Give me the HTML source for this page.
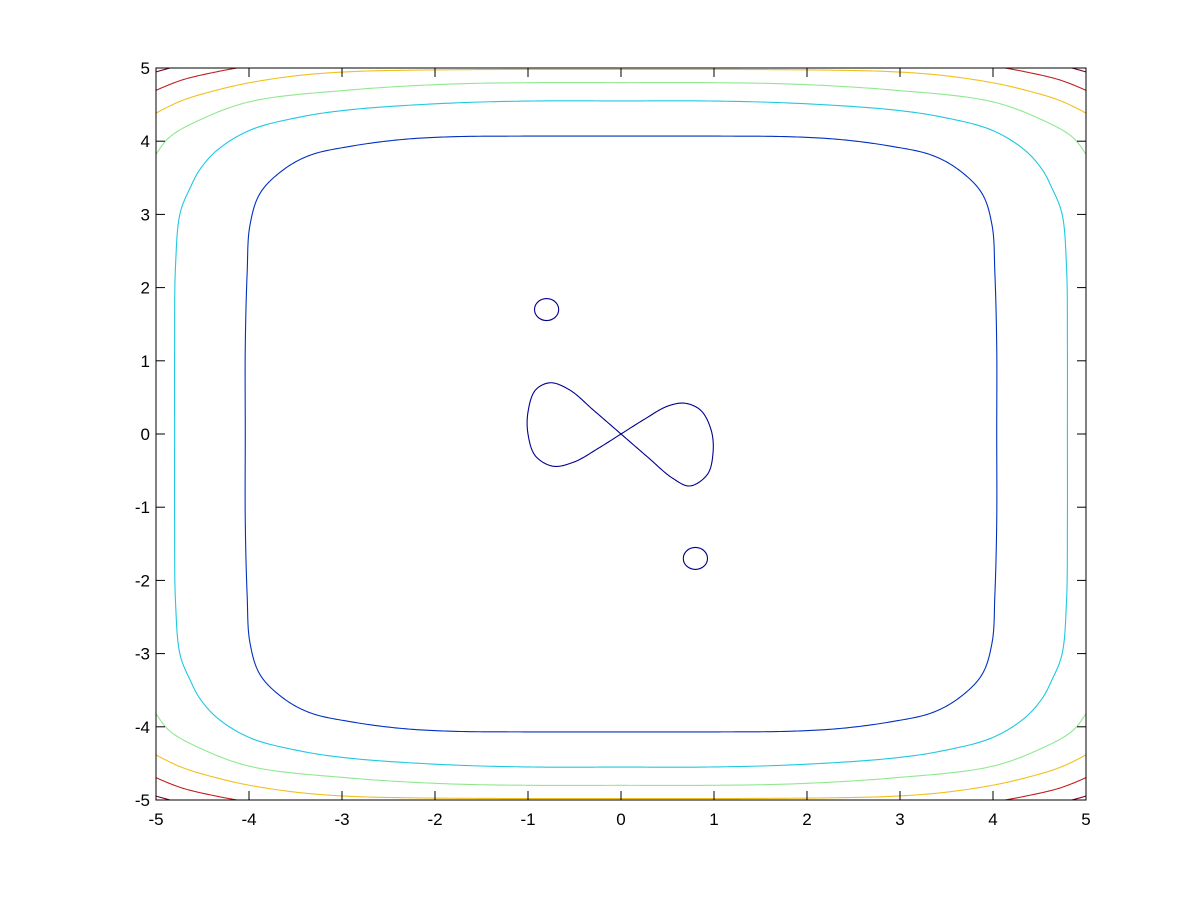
<!DOCTYPE html>
<html><head><meta charset="utf-8"><style>
body{margin:0;background:#fff}
svg{display:block}
text{font-family:"Liberation Sans",Arial,sans-serif;font-size:17px;fill:#000}
</style></head><body>
<svg id="chart" width="1200" height="900" viewBox="0 0 1200 900">
<defs><clipPath id="clip"><rect x="156" y="68" width="930" height="732"/></clipPath></defs>
<rect x="0" y="0" width="1200" height="900" fill="#fff"/>
<g id="contours" clip-path="url(#clip)"></g>
<g id="axes"></g>
</svg>
<script>
// contour levels: top-left quadrant points (data units), mirrored to the other quadrants
const levelColors = ["#0030c0","#20c8e0","#90e890","#f0c020","#c02020","#800020"];
const levelClosed = [true, true, false, false, false, false];
const lvlBlueX = [-4.04,-4.04,-4.02,-3.99,-3.88,-3.63,-3.34,-2.91,-2.38,-1.84,-0.9,0];
const lvlBlueY = [0,1.2,2.2,2.85,3.29,3.61,3.81,3.93,4.02,4.06,4.07,4.07];
const lvlCyanX = [-4.8,-4.8,-4.79,-4.74,-4.63,-4.53,-4.34,-3.99,-3.45,-2.91,-1.84,-0.9,0];
const lvlCyanY = [0,1.2,2.3,3.02,3.37,3.61,3.88,4.15,4.33,4.43,4.52,4.55,4.55];
const lvlGreenX = [-5.12,-4.99,-4.85,-4.53,-3.99,-2.91,-1.84,-0.9,0];
const lvlGreenY = [3.55,3.84,4.06,4.29,4.54,4.70,4.78,4.80,4.80];
const lvlYellowX = [-5.1,-4.99,-4.71,-4.34,-3.99,-3.45,-2.91,-2.27,-1.2,0];
const lvlYellowY = [4.3,4.39,4.56,4.70,4.80,4.90,4.95,4.97,4.98,4.98];
const lvlRedX = [-5.1,-4.99,-4.71,-4.34,-4.13,-3.8];
const lvlRedY = [4.63,4.70,4.84,4.95,5.0,5.08];
const lvlDarkX = [-5.1,-4.99,-4.85,-4.7];
const lvlDarkY = [4.9,4.95,5.0,5.06];
const levelXs = [lvlBlueX,lvlCyanX,lvlGreenX,lvlYellowX,lvlRedX,lvlDarkX];
const levelYs = [lvlBlueY,lvlCyanY,lvlGreenY,lvlYellowY,lvlRedY,lvlDarkY];
const xTicks = [-5,-4,-3,-2,-1,0,1,2,3,4,5];
const yTicks = [-5,-4,-3,-2,-1,0,1,2,3,4,5];
// figure-eight contour points
const eightX = [0,-0.3,-0.55,-0.76,-0.92,-1.0,-1.0,-0.92,-0.73,-0.5,-0.25,0,0.25,0.5,0.69,0.86,0.97,0.99,0.93,0.74,0.55,0.3,0];
const eightY = [0,0.33,0.6,0.7,0.6,0.3,0.0,-0.3,-0.44,-0.38,-0.2,0,0.2,0.38,0.42,0.32,0.05,-0.25,-0.55,-0.71,-0.6,-0.33,0];
// small loops
const loopCx = [-0.8, 0.8];
const loopCy = [1.7, -1.7];
const loopRx = [0.13, 0.13];
const loopRy = [0.15, 0.15];

const X0=156,X1=1086,Y0=800,Y1=68;
const sx=v=>X0+(v+5)/10*(X1-X0);
const sy=v=>Y0-(v+5)/10*(Y0-Y1);
const NS="http://www.w3.org/2000/svg";
const cg=document.getElementById('contours');
const ag=document.getElementById('axes');

// centripetal Catmull-Rom sampled into a polyline
function spline(P,closed){
  const n=P.length;
  const g=i=>{
    if(closed){return P[((i%(n-1))+(n-1))%(n-1)];}
    if(i<0){return [2*P[0][0]-P[1][0],2*P[0][1]-P[1][1]];}
    if(i>n-1){return [2*P[n-1][0]-P[n-2][0],2*P[n-1][1]-P[n-2][1]];}
    return P[i];
  };
  const dist=(a,b)=>Math.max(1e-4,Math.pow(Math.hypot(b[0]-a[0],b[1]-a[1]),0.5));
  const out=[P[0]];
  for(let i=0;i<n-1;i++){
    const p0=g(i-1),p1=P[i],p2=P[i+1],p3=g(i+2);
    const t0=0,t1=t0+dist(p0,p1),t2=t1+dist(p1,p2),t3=t2+dist(p2,p3);
    const S=20;
    for(let s=1;s<=S;s++){
      const t=t1+(t2-t1)*s/S;
      const L=(a,b,ta,tb)=>[(tb-t)/(tb-ta)*a[0]+(t-ta)/(tb-ta)*b[0],(tb-t)/(tb-ta)*a[1]+(t-ta)/(tb-ta)*b[1]];
      const A1=L(p0,p1,t0,t1),A2=L(p1,p2,t1,t2),A3=L(p2,p3,t2,t3);
      const B1=L(A1,A2,t0,t2),B2=L(A2,A3,t1,t3);
      out.push(L(B1,B2,t1,t2));
    }
  }
  return "M"+out.map(p=>p[0].toFixed(2)+","+p[1].toFixed(2)).join("L");
}
function addPath(d,color,name){
  const p=document.createElementNS(NS,"path");
  
  
  p.setAttribute("d",d);p.setAttribute("fill","none");
  p.setAttribute("stroke",color);p.setAttribute("stroke-width","1.1");
  p.setAttribute("stroke-linejoin","round");
  cg.appendChild(p);
}

levelXs.forEach((xs,i)=>{
  const ys=levelYs[i];
  let top=xs.map((x,k)=>[x,ys[k]]);
  const lastX=xs[xs.length-1];
  let arc;
  if(lastX===0){
    const right=top.slice(0,-1).reverse().map(p=>[-p[0],p[1]]);
    arc=top.concat(right);
  } else arc=top;
  if(levelClosed[i]){
    const bottom=arc.slice(1,-1).reverse().map(p=>[p[0],-p[1]]);
    const full=arc.concat(bottom).concat([arc[0]]);
    addPath(spline(full.map(p=>[sx(p[0]),sy(p[1])]),true),levelColors[i],'contour-level-'+(i+1));
  } else {
    const sets = lastX===0 ? [arc] : [arc, arc.map(p=>[-p[0],p[1]])];
    sets.forEach(s=>{
      addPath(spline(s.map(p=>[sx(p[0]),sy(p[1])]),false),levelColors[i],'contour-level-'+(i+1));
      addPath(spline(s.map(p=>[sx(p[0]),sy(-p[1])]),false),levelColors[i],'contour-level-'+(i+1));
    });
  }
});

addPath(spline(eightX.map((x,i)=>[sx(x),sy(eightY[i])]),true),"#00008f",'figure-eight-contour');

loopCx.forEach((cx,i)=>{
  const e=document.createElementNS(NS,"ellipse");
  
  
  e.setAttribute("cx",sx(cx));e.setAttribute("cy",sy(loopCy[i]));
  e.setAttribute("rx",loopRx[i]*93);e.setAttribute("ry",loopRy[i]*73.2);
  e.setAttribute("fill","none");e.setAttribute("stroke","#00008f");e.setAttribute("stroke-width","1.1");
  cg.appendChild(e);
});

const box=document.createElementNS(NS,"rect");


box.setAttribute("x",X0);box.setAttribute("y",Y1);box.setAttribute("width",X1-X0);box.setAttribute("height",Y0-Y1);
box.setAttribute("fill","none");box.setAttribute("stroke","#000");box.setAttribute("stroke-width","1");
ag.appendChild(box);
function line(x1,y1,x2,y2,name){
  const l=document.createElementNS(NS,"line");
  
  
  l.setAttribute("x1",x1);l.setAttribute("y1",y1);l.setAttribute("x2",x2);l.setAttribute("y2",y2);
  l.setAttribute("stroke","#000");ag.appendChild(l);
}
function label(x,y,s,anchor,name){
  const t=document.createElementNS(NS,"text");
  
  
  t.setAttribute("x",x);t.setAttribute("y",y);t.setAttribute("text-anchor",anchor);
  t.textContent=s;ag.appendChild(t);
}
xTicks.forEach(v=>{
  const x=sx(v);
  line(x,Y0,x,Y0-9,'x-tick');line(x,Y1,x,Y1+9,'x-tick-top');
  label(x,Y0+25,String(v),"middle",'x-tick-label');
});
yTicks.forEach(v=>{
  const y=sy(v);
  line(X0,y,X0+9,y,'y-tick');line(X1,y,X1-9,y,'y-tick-right');
  label(X0-6,y+6,String(v),"end",'y-tick-label');
});
</script>
</body></html>
